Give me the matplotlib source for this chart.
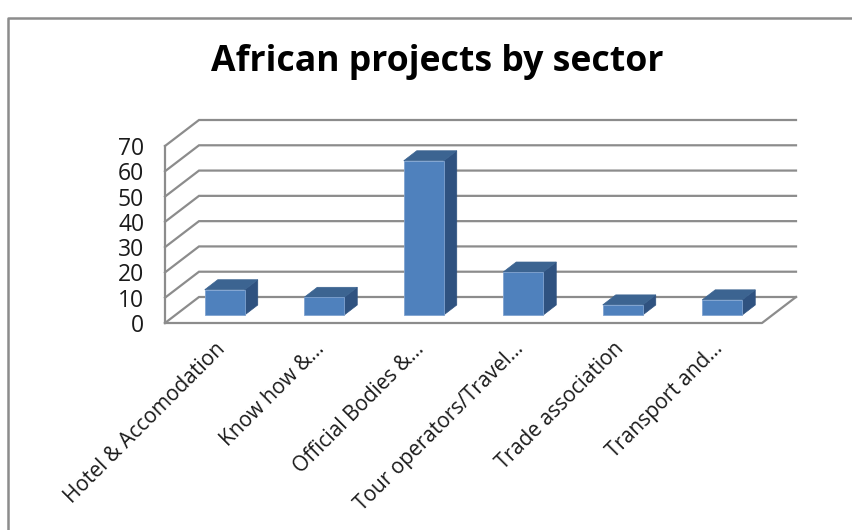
import matplotlib
matplotlib.use("Agg")
import matplotlib.pyplot as plt
from matplotlib.patches import Polygon

sectors = ["Hotel & Accomodation", "Know how &...", "Official Bodies &...",
           "Tour operators/Travel...", "Trade association", "Transport and..."]
projects = [10, 7, 61, 17, 4, 6]
y_ticks = [0, 10, 20, 30, 40, 50, 60, 70]

W, H = 853, 530
plt.rcParams['font.family'] = ['Open Sans', 'DejaVu Sans']

fig = plt.figure(figsize=(W / 100, H / 100), dpi=100)
# front face of the 3d box: x 165-762, y 146-323 (pixels from top)
ax = fig.add_axes([165 / W, 1 - 323 / H, 597 / W, 177 / H])
ax.set_xlim(0, 6)
ax.set_ylim(0, 70)
for s in ax.spines.values():
    s.set_visible(False)

# oblique offsets in data units
px_x = 6 / 597
px_y = 70 / 177
depth_x, depth_y = 34 * px_x, 26 * px_y
bar_x, bar_y = 10 * px_x, 8 * px_y        # bar front face vs front of floor
bar_dx, bar_dy = 13 * px_x, 10 * px_y     # bar depth
bar_w = 40 * px_x

grid = "#8c8c8c"
for v in y_ticks:
    ax.plot([0, depth_x, 6 + depth_x], [v, v + depth_y, v + depth_y], color=grid, lw=1.6,
            clip_on=False, zorder=1, solid_joinstyle="miter")
# left wall edge and floor front
ax.plot([0, 0], [0, 70], color=grid, lw=1.6, clip_on=False, zorder=1)
ax.plot([0, 6, 6 + depth_x], [0, 0, depth_y], color=grid, lw=1.6, clip_on=False, zorder=1)

for i, v in enumerate(projects):
    x0 = i + 0.5 - bar_w / 2 + bar_x
    y0 = bar_y
    x1 = x0 + bar_w
    y1 = y0 + v
    front = [(x0, y0), (x1, y0), (x1, y1), (x0, y1)]
    top = [(x0, y1), (x1, y1), (x1 + bar_dx, y1 + bar_dy), (x0 + bar_dx, y1 + bar_dy)]
    side = [(x1, y0), (x1 + bar_dx, y0 + bar_dy), (x1 + bar_dx, y1 + bar_dy), (x1, y1)]
    ax.add_patch(Polygon(side, fc="#2f5280", ec="#2f5280", lw=0.5, clip_on=False, zorder=3))
    ax.add_patch(Polygon(top, fc="#3c6491", ec="#3c6491", lw=0.5, clip_on=False, zorder=3))
    ax.add_patch(Polygon(front, fc="#4f81bd", ec="#7fa3d1", lw=0.6, clip_on=False, zorder=4))

ax.set_yticks(y_ticks)
ax.set_yticklabels([str(v) for v in y_ticks], fontsize=16.5, color="#1a1a1a")
ax.tick_params(axis="y", length=0, pad=15)
ax.set_xticks([i + 0.5 for i in range(6)])
ax.set_xticklabels(sectors, rotation=45, ha="right", rotation_mode="anchor",
                   fontsize=15, color="#1a1a1a")
ax.tick_params(axis="x", length=0, pad=11)

fig.text(437 / W, 1 - 62 / H, "African projects by sector", ha="center", va="center",
         fontsize=25.7, fontweight="bold", color="black")

# outer chart frame, runs off the right and bottom of the picture
fig.add_artist(plt.Line2D([8 / W, 8 / W, 1], [0, 1 - 18 / H, 1 - 18 / H], color=grid, lw=1.8,
                          transform=fig.transFigure))

fig.savefig("out.png", dpi=100)
